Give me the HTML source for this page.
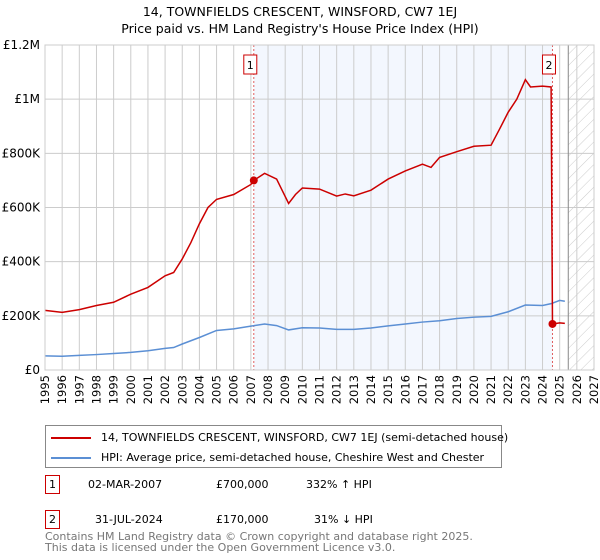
<!DOCTYPE html>
<html><head><meta charset="utf-8">
<style>
body{margin:0;background:#fff;font-family:"Liberation Sans","DejaVu Sans",sans-serif;}
#wrap{position:relative;width:600px;height:560px;overflow:hidden;}
</style></head>
<body><div id="wrap">
<svg id="chart" width="600" height="560" xmlns="http://www.w3.org/2000/svg" font-family="DejaVu Sans, Liberation Sans, sans-serif">
<defs><pattern id="hatch" width="8" height="8" patternUnits="userSpaceOnUse" patternTransform="rotate(45)"><line x1="0" y1="0" x2="0" y2="8" stroke="#ccc" stroke-width="1"/></pattern></defs>
<text x="300" y="16" text-anchor="middle" font-size="12.5" fill="#000">14, TOWNFIELDS CRESCENT, WINSFORD, CW7 1EJ</text>
<text x="300" y="33" text-anchor="middle" font-size="12.5" fill="#000">Price paid vs. HM Land Registry's House Price Index (HPI)</text>
<g id="grid"></g><g id="marks"></g><g id="axes"></g>
</svg>
<div style="position:absolute;left:45px;top:425px;width:455px;height:41px;border:1px solid #888;font-size:11px;font-family:'DejaVu Sans','Liberation Sans',sans-serif;">
<div style="position:absolute;left:5px;top:5px;white-space:nowrap;"><span style="display:inline-block;width:40px;height:2px;background:#cc0000;vertical-align:middle;margin-right:10px;"></span>14, TOWNFIELDS CRESCENT, WINSFORD, CW7 1EJ (semi-detached house)</div>
<div style="position:absolute;left:5px;top:25px;white-space:nowrap;"><span style="display:inline-block;width:40px;height:2px;background:#5b8fd4;vertical-align:middle;margin-right:10px;"></span>HPI: Average price, semi-detached house, Cheshire West and Chester</div>
</div>
<div style="font-family:'DejaVu Sans','Liberation Sans',sans-serif;font-size:11px;">
<div>
<div style="position:absolute;left:45px;top:475px;width:13px;height:17px;border:1px solid #cc0000;text-align:center;line-height:17px;">1</div>
<div style="position:absolute;left:88px;top:478px;">02-MAR-2007</div>
<div style="position:absolute;left:216px;top:478px;">£700,000</div>
<div style="position:absolute;left:306px;top:478px;">332% ↑ HPI</div></div>
<div>
<div style="position:absolute;left:45px;top:510px;width:13px;height:17px;border:1px solid #cc0000;text-align:center;line-height:17px;">2</div>
<div style="position:absolute;left:95px;top:513px;">31-JUL-2024</div>
<div style="position:absolute;left:216px;top:513px;">£170,000</div>
<div style="position:absolute;left:314px;top:513px;">31% ↓ HPI</div></div>
<div style="position:absolute;left:45px;top:531px;color:#777;line-height:11px;font-size:11px;">Contains HM Land Registry data © Crown copyright and database right 2025.<br>This data is licensed under the Open Government Licence v3.0.</div>
</div>
</div>
<script>
const yearTicks=[1995,1996,1997,1998,1999,2000,2001,2002,2003,2004,2005,2006,2007,2008,2009,2010,2011,2012,2013,2014,2015,2016,2017,2018,2019,2020,2021,2022,2023,2024,2025,2026,2027];
const valueTicks=[0,200,400,600,800,1000,1200];
const valueTickLabels=["£0","£200K","£400K","£600K","£800K","£1M","£1.2M"];
const hpiYears=[1995,1996,1997,1998,1999,2000,2001,2002,2002.5,2003,2004,2005,2006,2007,2007.8,2008.5,2009.2,2010,2011,2012,2013,2014,2015,2016,2017,2018,2019,2020,2021,2022,2023,2024,2024.5,2025,2025.3];
const hpiValues=[52,51,54,57,61,65,71,80,83,96,120,146,152,162,170,164,148,156,155,150,150,155,163,170,177,182,190,195,198,215,240,238,245,257,254];
const propYears=[1995,1996,1997,1998,1999,2000,2001,2002,2002.5,2003,2003.5,2004,2004.5,2005,2006,2007,2007.17,2007.8,2008.5,2009.2,2009.6,2010,2011,2012,2012.5,2013,2014,2015,2016,2017,2017.5,2018,2019,2020,2021,2021.5,2022,2022.5,2023,2023.3,2024,2024.5,2024.58,2025,2025.3];
const propValues=[220,213,223,238,250,280,305,348,360,410,470,540,600,630,648,685,700,726,705,615,648,672,668,642,650,643,664,705,735,760,748,785,806,826,830,890,952,1000,1072,1045,1048,1045,170,174,172];
const saleYears=[2007.17,2024.58];
const saleValues=[700,170];
const saleLabels=["1","2"];
const X0=45,X1=594,Y0=370,Y1=45;
const x=y=>X0+(y-1995)*(X1-X0)/32;
const yv=v=>Y0-v*(Y0-Y1)/1200;
const NS="http://www.w3.org/2000/svg";
function mk(parent,tag,attrs){const e=document.createElementNS(NS,tag);for(const k in attrs)e.setAttribute(k,attrs[k]);document.getElementById(parent).appendChild(e);return e;}
let e;
e=mk('grid','rect',{x:x(2007.17),y:Y1,width:x(2024.58)-x(2007.17),height:Y0-Y1,fill:'#eef3fd',opacity:0.7});


e=mk('grid','rect',{x:x(2025.5),y:Y1,width:X1-x(2025.5),height:Y0-Y1,fill:'url(#hatch)'});


yearTicks.forEach(t=>{const l=mk('grid','line',{x1:x(t),x2:x(t),y1:Y1,y2:Y0,stroke:'#ccc','stroke-width':1});


const tx=mk('axes','text',{x:0,y:0,'font-size':11.5,fill:'#000','text-anchor':'end','dominant-baseline':'central',transform:`translate(${x(t)},${Y0+5}) rotate(-90)`});tx.textContent=t;

});
valueTicks.forEach((v,i)=>{const l=mk('grid','line',{x1:X0,x2:X1,y1:yv(v),y2:yv(v),stroke:'#ccc','stroke-width':1});


const tx=mk('axes','text',{x:X0-5,y:yv(v)+4,'font-size':12,fill:'#000','text-anchor':'end'});tx.textContent=valueTickLabels[i];

});
e=mk('grid','line',{x1:x(2025.5),x2:x(2025.5),y1:Y1,y2:Y0,stroke:'#888','stroke-width':1});


saleYears.forEach((s,i)=>{const l=mk('grid','line',{x1:x(s),x2:x(s),y1:Y1,y2:Y0,stroke:'#e06060','stroke-width':1,'stroke-dasharray':'2,2'});

});
e=mk('marks','polyline',{points:hpiYears.map((t,i)=>x(t)+','+yv(hpiValues[i])).join(' '),fill:'none',stroke:'#5b8fd4','stroke-width':1.5});


e=mk('marks','polyline',{points:propYears.map((t,i)=>x(t)+','+yv(propValues[i])).join(' '),fill:'none',stroke:'#cc0000','stroke-width':1.5});


saleYears.forEach((s,i)=>{const c=mk('marks','circle',{cx:x(s),cy:yv(saleValues[i]),r:4,fill:'#cc0000'});


const r=mk('marks','rect',{x:x(s)-10,y:55,width:13,height:19,fill:'#fff',stroke:'#cc0000'});


const tx=mk('marks','text',{x:x(s)-3.5,y:69,'font-size':11,'text-anchor':'middle'});tx.textContent=saleLabels[i];

});
e=mk('axes','rect',{x:X0,y:Y1,width:X1-X0,height:Y0-Y1,fill:'none',stroke:'#ccc'});


</script>
</body></html>
